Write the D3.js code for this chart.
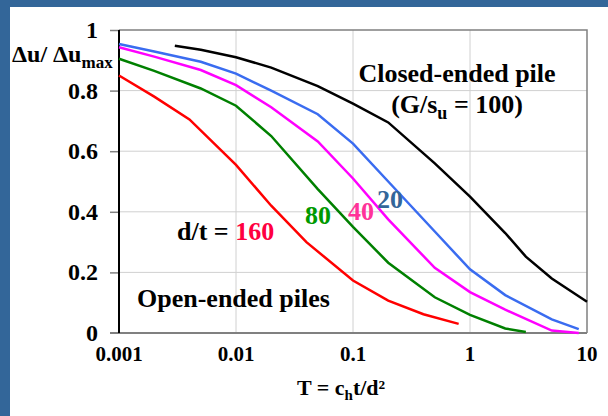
<!DOCTYPE html>
<html>
<head>
<meta charset="utf-8">
<script src="https://cdn.jsdelivr.net/npm/d3@7"></script>
<style>
  body { margin: 0; background: #336699; }
  svg { display: block; }
</style>
</head>
<body>
<div id="vis"></div>
<script>
// values (T on log axis, du/du_max)
var tClosed = [0.003, 0.005, 0.01, 0.02, 0.05, 0.1, 0.2, 0.5, 1, 2, 3, 5, 10];
var uClosed = [0.948, 0.935, 0.91, 0.876, 0.815, 0.757, 0.695, 0.56, 0.45, 0.33, 0.252, 0.18, 0.103];

var t20 = [0.001, 0.002, 0.005, 0.01, 0.02, 0.05, 0.1, 0.2, 0.5, 1, 2, 5, 8.5];
var u20 = [0.954, 0.929, 0.895, 0.856, 0.80, 0.722, 0.625, 0.50, 0.335, 0.21, 0.125, 0.045, 0.013];

var t40 = [0.001, 0.002, 0.005, 0.01, 0.02, 0.05, 0.1, 0.2, 0.5, 1, 2, 5, 8.5];
var u40 = [0.943, 0.912, 0.868, 0.818, 0.745, 0.632, 0.51, 0.375, 0.215, 0.135, 0.077, 0.008, 0.0];

var t80 = [0.001, 0.002, 0.005, 0.01, 0.02, 0.05, 0.1, 0.2, 0.5, 1, 2, 3];
var u80 = [0.905, 0.865, 0.807, 0.75, 0.65, 0.475, 0.35, 0.232, 0.118, 0.06, 0.015, 0.003];

var t160 = [0.001, 0.002, 0.004, 0.01, 0.02, 0.04, 0.1, 0.2, 0.4, 0.8];
var u160 = [0.85, 0.78, 0.705, 0.555, 0.42, 0.30, 0.173, 0.107, 0.062, 0.03];

var xTicks = [0.001, 0.01, 0.1, 1, 10];
var xTickLabels = ['0.001', '0.01', '0.1', '1', '10'];
var yTicks = [0, 0.2, 0.4, 0.6, 0.8, 1];
var yTickLabels = ['0', '0.2', '0.4', '0.6', '0.8', '1'];

var series = [
  { t: tClosed, u: uClosed, color: '#000000' },
  { t: t20, u: u20, color: '#3a6cf0' },
  { t: t40, u: u40, color: '#ff00ff' },
  { t: t80, u: u80, color: '#008000' },
  { t: t160, u: u160, color: '#ff0000' }
];

var width = 608, height = 416;
var margin = { top: 30, left: 119, bottom: 83, right: 21 };
var serif = '"Liberation Serif", "Times New Roman", Times, serif';

var svg = d3.select('#vis').append('svg')
  .attr('width', width)
  .attr('height', height);

// blue frame, white panel
svg.append('rect').attr('width', width).attr('height', height).attr('fill', '#336699');
svg.append('rect').attr('x', 10).attr('y', 7).attr('width', width - 10).attr('height', height - 7).attr('fill', '#ffffff');

var x = d3.scaleLog()
  .domain([0.001, 10])
  .range([margin.left, width - margin.right]);
var y = d3.scaleLinear()
  .domain([0, 1])
  .range([height - margin.bottom, margin.top]);

var g = svg.append('g');

// grid lines
g.selectAll('.vgrid')
  .data(xTicks.slice(1, -1))
  .enter().append('line')
  .attr('x1', function(d) { return x(d); })
  .attr('x2', function(d) { return x(d); })
  .attr('y1', y(0)).attr('y2', y(1))
  .attr('stroke', '#d0d0d0').attr('stroke-width', 1);

g.selectAll('.hgrid')
  .data(yTicks.slice(1, -1))
  .enter().append('line')
  .attr('x1', x(0.001)).attr('x2', x(10))
  .attr('y1', function(d) { return y(d); })
  .attr('y2', function(d) { return y(d); })
  .attr('stroke', '#d0d0d0').attr('stroke-width', 1);

// top and right border
g.append('path')
  .attr('d', 'M' + x(0.001) + ',' + y(1) + 'H' + x(10) + 'V' + y(0))
  .attr('fill', 'none').attr('stroke', '#808080').attr('stroke-width', 1.5);

// bottom axis line (grey), extends to tick length on the left
g.append('line')
  .attr('x1', x(0.001) - 9).attr('x2', x(10))
  .attr('y1', y(0)).attr('y2', y(0))
  .attr('stroke', '#808080').attr('stroke-width', 2);

// left axis
var yAxis = d3.axisLeft(y)
  .tickValues(yTicks.slice(1))
  .tickSize(9)
  .tickFormat('');
var ya = g.append('g')
  .attr('transform', 'translate(' + x(0.001) + ',0)')
  .call(yAxis);
ya.select('.domain').remove();
ya.selectAll('.tick line').attr('stroke', '#808080').attr('stroke-width', 1.5);
g.append('line')
  .attr('x1', x(0.001)).attr('x2', x(0.001))
  .attr('y1', y(0)).attr('y2', y(1))
  .attr('stroke', '#000').attr('stroke-width', 2);

// tick labels
g.selectAll('.ylab')
  .data(yTicks)
  .enter().append('text')
  .attr('x', x(0.001) - 21)
  .attr('y', function(d) { return y(d) + 8; })
  .attr('text-anchor', 'end')
  .attr('font-size', 24)
  .text(function(d, i) { return yTickLabels[i]; });

g.selectAll('.xlab')
  .data(xTicks)
  .enter().append('text')
  .attr('x', function(d) { return x(d); })
  .attr('y', y(0) + 28)
  .attr('text-anchor', 'middle')
  .attr('font-size', 21)
  .text(function(d, i) { return xTickLabels[i]; });

// curves
var line = d3.line()
  .x(function(d) { return x(d[0]); })
  .y(function(d) { return y(d[1]); });

g.selectAll('.curve')
  .data(series)
  .enter().append('path')
  .attr('class', 'curve')
  .attr('d', function(s) { return line(d3.zip(s.t, s.u)); })
  .attr('fill', 'none')
  .attr('stroke', function(s) { return s.color; })
  .attr('stroke-width', 2.5);

// axis titles
var yt = svg.append('text').attr('x', 12).attr('y', 62).attr('font-size', 24);
yt.append('tspan').text('\u0394u/ \u0394u');
yt.append('tspan').attr('dy', 6).attr('font-size', 17).text('max');

var xt = svg.append('text').attr('x', 297).attr('y', 395).attr('font-size', 22);
xt.append('tspan').text('T = c');
xt.append('tspan').attr('dy', 5).attr('font-size', 15).text('h');
xt.append('tspan').attr('dy', -5).text('t/d\u00b2');

// annotations
svg.append('text').attr('x', 457).attr('y', 82).attr('text-anchor', 'middle')
  .attr('font-size', 26).text('Closed-ended pile');
var gs = svg.append('text').attr('x', 457).attr('y', 113).attr('text-anchor', 'middle')
  .attr('font-size', 26);
gs.append('tspan').text('(G/s');
gs.append('tspan').attr('dy', 6).attr('font-size', 18).text('u');
gs.append('tspan').attr('dy', -6).text(' = 100)');

svg.append('text').attr('x', 137).attr('y', 307).attr('font-size', 26).text('Open-ended piles');

var dt = svg.append('text').attr('x', 177).attr('y', 240).attr('font-size', 26);
dt.append('tspan').text('d/t = ');
dt.append('tspan').attr('fill', '#ff0040').text('160');

svg.append('text').attr('x', 305).attr('y', 224).attr('font-size', 26).attr('fill', '#009900').text('80');
svg.append('text').attr('x', 348).attr('y', 220).attr('font-size', 26).attr('fill', '#ff3399').text('40');
svg.append('text').attr('x', 377).attr('y', 208).attr('font-size', 26).attr('fill', '#336699').text('20');

// serif bold for every label
svg.selectAll('text')
  .style('font-family', serif)
  .style('font-weight', 'bold');
</script>
</body>
</html>
